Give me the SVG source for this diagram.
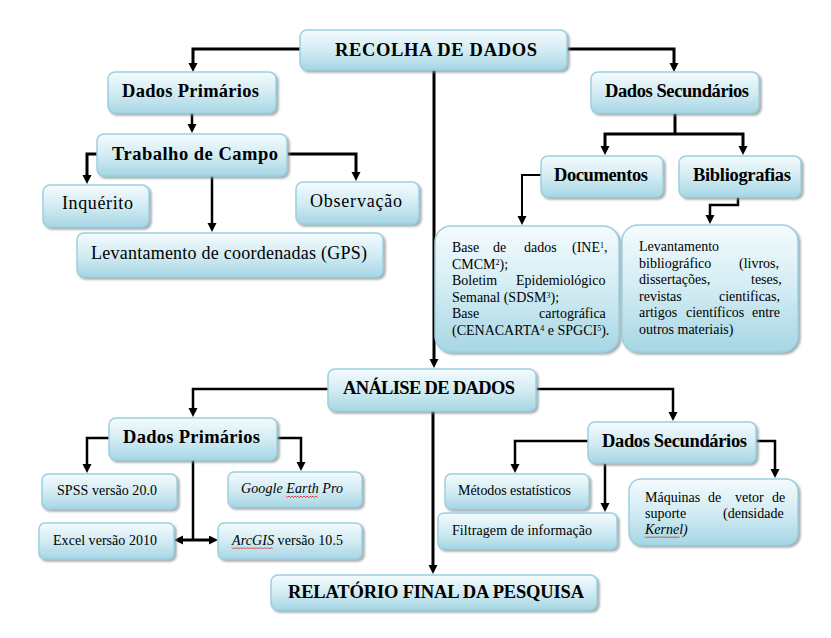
<svg xmlns="http://www.w3.org/2000/svg" width="831" height="638" viewBox="0 0 831 638">
<defs>
<linearGradient id="g" x1="0" y1="0" x2="0" y2="1">
<stop offset="0" stop-color="#f4fbfd"/>
<stop offset="0.5" stop-color="#d3ecf3"/>
<stop offset="1" stop-color="#a6d6e4"/>
</linearGradient>
<filter id="sh" x="-10%" y="-10%" width="130%" height="140%">
<feDropShadow dx="2" dy="2" stdDeviation="1" flood-color="#7f8a8d" flood-opacity="0.7"/>
</filter>
<marker id="ah" markerUnits="userSpaceOnUse" markerWidth="10" markerHeight="10" refX="1" refY="4.5" orient="auto">
<path d="M0,0 L9,4.5 L0,9 z" fill="#000"/>
</marker>
</defs>
<style>
rect.b{fill:url(#g);stroke:#9ccfdf;stroke-width:1.5;filter:url(#sh)}
text{font-family:"Liberation Serif","Times New Roman",serif;fill:#000}
.h{font-weight:bold;font-size:18.5px}
.r{font-size:18px}
.s{font-size:14px}
.p{font-size:14px}
.c path{fill:none;stroke:#000;stroke-width:2.5}
.c path.a{marker-end:url(#ah)}
.sq{fill:none;stroke:#e02020;stroke-width:0.8}
</style>
<rect width="831" height="638" fill="#fff"/>
<g class="c" id="connectors">
<path class="a" d="M300,49 H193 V64" style="stroke-width:3"/>
<path class="a" d="M567,49 H674 V64" style="stroke-width:3"/>
<path class="a" d="M434,70 V360" style="stroke-width:3"/>
<path class="a" d="M192,113 V125"/>
<path class="a" d="M97,154 H87 V176" style="stroke-width:3"/>
<path class="a" d="M287,154 H356 V173" style="stroke-width:3"/>
<path class="a" d="M212,176 V224"/>
<path d="M675,113 V134" style="stroke-width:3"/>
<path class="a" d="M675,134 H605 V147" style="stroke-width:3"/>
<path class="a" d="M675,134 H743 V147" style="stroke-width:3"/>
<path class="a" d="M541,175 H522 V217" style="stroke-width:2"/>
<path class="a" d="M738,197 V205 H710 V216"/>
<path class="a" d="M328,389 H193 V409"/>
<path class="a" d="M536,389 H673 V413"/>
<path class="a" d="M433,411 V566" style="stroke-width:3"/>
<path class="a" d="M109,438 H87 V465"/>
<path class="a" d="M277,438 H301 V463"/>
<path d="M193,460 V540" style="stroke-width:2.5"/>
<path class="a" d="M193,540 H182" style="stroke-width:3"/>
<path class="a" d="M193,540 H210" style="stroke-width:3"/>
<path class="a" d="M588,441 H515 V465"/>
<path class="a" d="M605,463 V504"/>
<path class="a" d="M756,441 H775 V470"/>
</g>
<g id="recolha"><rect class="b" x="300" y="30" width="267" height="40" rx="7"/><text class="h" x="335" y="55.5" textLength="202">RECOLHA DE DADOS</text></g>
<g id="dp1"><rect class="b" x="108" y="72" width="168" height="41" rx="7"/><text class="h" x="122" y="97" textLength="137">Dados Primários</text></g>
<g id="trabalho"><rect class="b" x="97" y="134" width="190" height="42" rx="7"/><text class="h" x="112" y="159.5" textLength="166">Trabalho de Campo</text></g>
<g id="inquerito"><rect class="b" x="43" y="185" width="106" height="42" rx="7"/><text class="r" x="62" y="209" textLength="71">Inquérito</text></g>
<g id="observacao"><rect class="b" x="296" y="182" width="123" height="42" rx="7"/><text class="r" x="310" y="207" textLength="92">Observação</text></g>
<g id="gps"><rect class="b" x="77" y="233" width="306" height="44" rx="7"/><text class="r" x="91" y="259" textLength="276">Levantamento de coordenadas (GPS)</text></g>
<g id="ds1"><rect class="b" x="591" y="72" width="168" height="41" rx="7"/><text class="h" x="605" y="96.5" textLength="144">Dados Secundários</text></g>
<g id="documentos"><rect class="b" x="541" y="156" width="122" height="41" rx="7"/><text class="h" x="554" y="181" textLength="94">Documentos</text></g>
<g id="bibliografias"><rect class="b" x="679" y="156" width="122" height="41" rx="7"/><text class="h" x="693" y="181" textLength="98">Bibliografias</text></g>
<g id="basedados"><rect class="b" x="435" y="226" width="184" height="126" rx="16"/>
<text class="p"><tspan x="452" y="252">Base</tspan><tspan x="493">de</tspan><tspan x="524">dados</tspan><tspan x="572">(INE<tspan font-size="8" dy="-4">1</tspan><tspan dy="4">,</tspan></tspan>
<tspan x="452" y="268.5">CMCM<tspan font-size="8" dy="-4">2</tspan><tspan dy="4">);</tspan></tspan>
<tspan x="452" y="285">Boletim</tspan><tspan x="516" y="285">Epidemiológico</tspan>
<tspan x="452" y="301.5">Semanal (SDSM<tspan font-size="8" dy="-4">3</tspan><tspan dy="4">);</tspan></tspan>
<tspan x="452" y="318">Base</tspan><tspan x="539" y="318">cartográfica</tspan>
<tspan x="452" y="334.5">(CENACARTA<tspan font-size="8" dy="-4">4</tspan><tspan dy="4"> e SPGCI</tspan><tspan font-size="8" dy="-4">5</tspan><tspan dy="4">).</tspan></tspan></text></g>
<g id="levbib"><rect class="b" x="622" y="225" width="176" height="127" rx="16"/>
<text class="p"><tspan x="639" y="251">Levantamento</tspan>
<tspan x="639" y="267.5">bibliográfico</tspan><tspan x="739" y="267.5">(livros,</tspan>
<tspan x="639" y="284">dissertações,</tspan><tspan x="751" y="284">teses,</tspan>
<tspan x="639" y="300.5">revistas</tspan><tspan x="719" y="300.5">cientificas,</tspan>
<tspan x="639" y="317">artigos</tspan><tspan x="686" y="317">científicos</tspan><tspan x="752" y="317">entre</tspan>
<tspan x="639" y="333.5">outros materiais)</tspan></text></g>
<g id="analise"><rect class="b" x="328" y="369" width="208" height="42" rx="7"/><text class="h" x="343" y="393.5" textLength="172">ANÁLISE DE DADOS</text></g>
<g id="dp2"><rect class="b" x="109" y="418" width="168" height="42" rx="7"/><text class="h" x="123" y="443" textLength="137">Dados Primários</text></g>
<g id="spss"><rect class="b" x="42" y="474" width="135" height="35" rx="6"/><text class="s" x="57" y="495" textLength="100">SPSS versão 20.0</text></g>
<g id="google"><rect class="b" x="228" y="472" width="134" height="35" rx="6"/><text class="s" x="241" y="493" textLength="102" font-style="italic">Google Earth Pro</text>
<path class="sq" d="M286,496 l1.5,1.5 l1.5,-1.5 l1.5,1.5 l1.5,-1.5 l1.5,1.5 l1.5,-1.5 l1.5,1.5 l1.5,-1.5 l1.5,1.5 l1.5,-1.5 l1.5,1.5 l1.5,-1.5 l1.5,1.5 l1.5,-1.5 l1.5,1.5 l1.5,-1.5 l1.5,1.5 l1.5,-1.5 l1.5,1.5 l1.5,-1.5 l1.5,1.5"/></g>
<g id="excel"><rect class="b" x="39" y="523" width="135" height="36" rx="6"/><text class="s" x="53" y="544.5" textLength="104">Excel versão 2010</text></g>
<g id="arcgis"><rect class="b" x="218" y="523" width="144" height="36" rx="6"/><text class="s" x="232" y="544.5" textLength="111"><tspan font-style="italic">ArcGIS</tspan> versão 10.5</text>
<path class="sq" d="M232,547.5 l1.5,1.5 l1.5,-1.5 l1.5,1.5 l1.5,-1.5 l1.5,1.5 l1.5,-1.5 l1.5,1.5 l1.5,-1.5 l1.5,1.5 l1.5,-1.5 l1.5,1.5 l1.5,-1.5 l1.5,1.5 l1.5,-1.5 l1.5,1.5 l1.5,-1.5 l1.5,1.5 l1.5,-1.5 l1.5,1.5 l1.5,-1.5 l1.5,1.5 l1.5,-1.5 l1.5,1.5 l1.5,-1.5 l1.5,1.5 l1.5,-1.5 l1.5,1.5"/></g>
<g id="ds2"><rect class="b" x="588" y="422" width="168" height="41" rx="7"/><text class="h" x="602" y="447" textLength="145">Dados Secundários</text></g>
<g id="metodos"><rect class="b" x="445" y="474" width="144" height="35" rx="6"/><text class="p" x="458" y="495" textLength="113">Métodos estatísticos</text></g>
<g id="filtragem"><rect class="b" x="438" y="513" width="179" height="36" rx="6"/><text class="s" x="452" y="534.5" textLength="140">Filtragem de informação</text></g>
<g id="maquinas"><rect class="b" x="629" y="479" width="169" height="66" rx="12"/>
<text class="p"><tspan x="645" y="501.5">Máquinas</tspan><tspan x="708" y="501.5">de</tspan><tspan x="735" y="501.5">vetor</tspan><tspan x="772" y="501.5">de</tspan>
<tspan x="645" y="518">suporte</tspan><tspan x="723" y="518">(densidade</tspan>
<tspan x="645" y="534" font-style="italic">Kernel)</tspan></text>
<path class="sq" d="M645,536.5 l1.5,1.5 l1.5,-1.5 l1.5,1.5 l1.5,-1.5 l1.5,1.5 l1.5,-1.5 l1.5,1.5 l1.5,-1.5 l1.5,1.5 l1.5,-1.5 l1.5,1.5 l1.5,-1.5 l1.5,1.5 l1.5,-1.5 l1.5,1.5 l1.5,-1.5 l1.5,1.5 l1.5,-1.5 l1.5,1.5 l1.5,-1.5 l1.5,1.5 l1.5,-1.5 l1.5,1.5"/></g>
<g id="relatorio"><rect class="b" x="271" y="575" width="326" height="35" rx="7"/><text class="h" x="288" y="598" textLength="296">RELATÓRIO FINAL DA PESQUISA</text></g>
</svg>
